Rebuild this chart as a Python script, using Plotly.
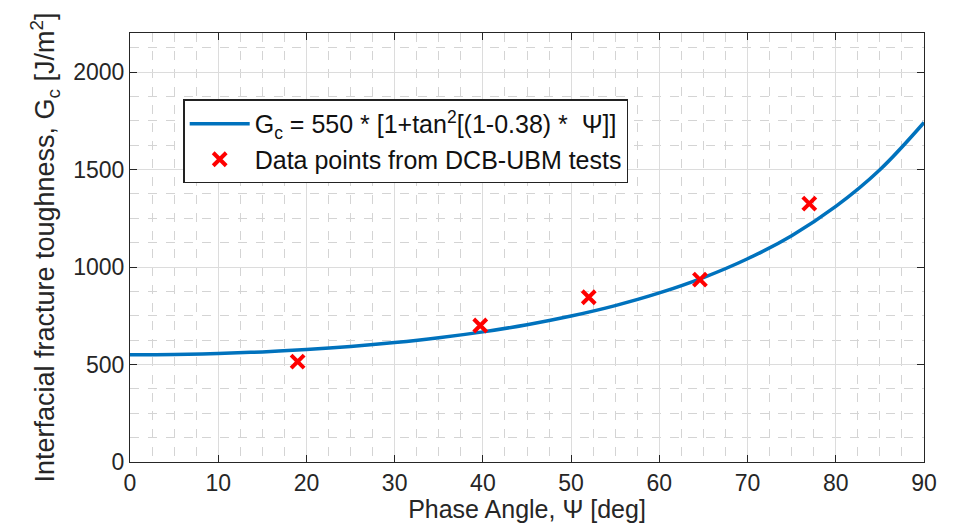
import plotly.graph_objects as go

# Model curve values (Gc = 550*[1+tan^2((1-0.38)*psi)]) read at 5 deg steps
curve_psi = [0, 5, 10, 15, 20, 25, 30, 35, 40, 45, 50, 55, 60, 65, 70, 75, 80, 85, 90]
curve_gc = [550, 551.6, 556.5, 564.7, 576.6, 592.3, 612.3, 637.1, 667.4, 704.2,
            748.6, 802.1, 866.9, 945.7, 1042.1, 1160.7, 1310.5, 1498.6, 1740.9]

# DCB-UBM test data points
data_psi = [19.0, 39.7, 52.0, 64.6, 77.0]
data_gc = [515, 700, 845, 935, 1325]

x_ticks = [0, 10, 20, 30, 40, 50, 60, 70, 80, 90]
y_ticks = [0, 500, 1000, 1500, 2000]

font_family = "Liberation Sans, Arial, sans-serif"
axis_col = "#262626"

fig = go.Figure()
fig.add_trace(go.Scatter(
    x=curve_psi, y=curve_gc, mode="lines", line=dict(color="#0072BD", width=3.5, shape="spline"),
    name="G<sub>c</sub> = 550 * [1+tan<sup>2</sup>[(1-0.38) *  Ψ]]"))
fig.add_trace(go.Scatter(
    x=data_psi, y=data_gc, mode="markers",
    marker=dict(symbol="x-thin", size=13, line=dict(color="#FF0000", width=4)),
    name="Data points from DCB-UBM tests"))

common = dict(
    showline=True, linecolor=axis_col, linewidth=1.2, mirror="ticks",
    ticks="inside", ticklen=7, tickcolor=axis_col, tickwidth=1.2,
    showgrid=True, gridcolor="#dcdcdc", gridwidth=1, zeroline=False,
    tickfont=dict(family=font_family, size=23, color=axis_col),
    automargin=False,
)

fig.update_xaxes(
    range=[0, 90], tickvals=x_ticks,
    minor=dict(dtick=2.5, showgrid=True, gridcolor="#d4d4d4", griddash="dash", gridwidth=1, ticks=""),
    title=dict(text="Phase Angle, Ψ [deg]", font=dict(family=font_family, size=25, color=axis_col), standoff=5),
    **common)
fig.update_yaxes(
    range=[0, 2200], tickvals=y_ticks,
    minor=dict(dtick=125, showgrid=True, gridcolor="#d4d4d4", griddash="dash", gridwidth=1, ticks=""),
    title=dict(text="Interfacial fracture toughness, G<sub>c</sub> [J/m<sup>2</sup>]",
               font=dict(family=font_family, size=27, color=axis_col), standoff=10),
    **common)

fig.update_layout(
    width=953, height=523,
    margin=dict(l=130, r=29, t=33, b=61),
    plot_bgcolor="white", paper_bgcolor="white",
    font=dict(family=font_family, color="#111111"),
    legend=dict(x=0.067, y=0.845, xanchor="left", yanchor="top",
                bgcolor="white", bordercolor="#222222", borderwidth=1.5,
                font=dict(family=font_family, size=25, color="#111111"),
                itemwidth=60, tracegroupgap=0),
    showlegend=True,
)

fig.write_html("out.html", config={"displayModeBar": False},
               post_script="document.body.style.margin='0';document.body.style.padding='0';")
